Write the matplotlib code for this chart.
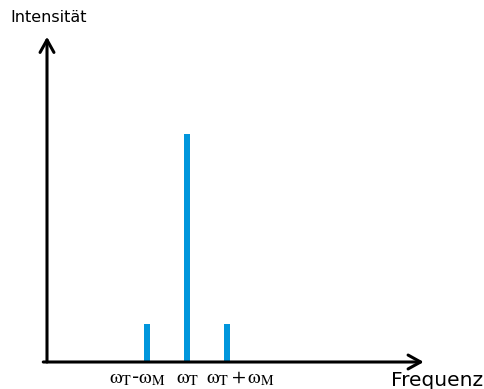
import matplotlib.pyplot as plt

# spectrum of an amplitude-modulated signal
freq_pos = [-1, 0, 1]
intensity = [1, 6, 1]
tick_labels = [
    r"$\mathrm{\omega}_{\mathrm{T}}$-$\mathrm{\omega}_{\mathrm{M}}$",
    r"$\mathrm{\omega}_{\mathrm{T}}$",
    r"$\mathrm{\omega}_{\mathrm{T}}+\mathrm{\omega}_{\mathrm{M}}$",
]
label_shift = [-9, 1, 13]  # px, labels sit a bit off the bars

plt.rcParams["mathtext.fontset"] = "stix"

W, H = 485, 389
fig = plt.figure(figsize=(W / 100, H / 100), dpi=100)

left_px, right_px = 47, 420
bottom_px, top_px = 362, 40
ax = fig.add_axes([
    left_px / W,
    (H - bottom_px) / H,
    (right_px - left_px) / W,
    (bottom_px - top_px) / H,
])

unit = 40.5
ax.set_xlim((left_px - 187) / unit, (right_px - 187) / unit)
ax.set_ylim(0, (bottom_px - top_px) / 38)

ax.bar(freq_pos, intensity, width=6 / unit, color="#0096DC")

for s in ax.spines.values():
    s.set_visible(False)
ax.set_xticks([])
ax.set_yticks([])

for x, lab, dx in zip(freq_pos, tick_labels, label_shift):
    ax.annotate(lab, xy=(x, 0), xytext=(dx * 0.72, -5), textcoords="offset points",
                ha="center", va="top", fontsize=14.5, annotation_clip=False)

arrow = dict(arrowstyle="->,head_length=0.9,head_width=0.5", lw=2.2, color="black",
             shrinkA=0, shrinkB=0)
ax.annotate("", xy=(0, 1.01), xytext=(0, 0), xycoords="axes fraction",
            arrowprops=arrow, annotation_clip=False)
ax.annotate("", xy=(1.01, 0), xytext=(-0.01, 0), xycoords="axes fraction",
            arrowprops=arrow, annotation_clip=False)

fig.text(10 / W, 1 - 17 / H, "Intensität", fontsize=11.5, va="center", ha="left")
fig.text(1 - 2 / W, 1 - 380 / H, "Frequenz", fontsize=14.5, va="center", ha="right")

fig.savefig("out.png", dpi=100)
